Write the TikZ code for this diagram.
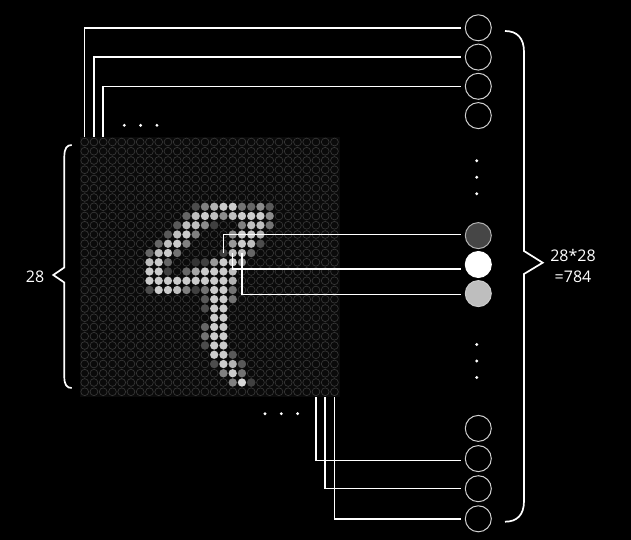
\documentclass[tikz,border=0pt]{standalone}
\usepackage{fontspec}
\setmainfont{Open Sans}
\definecolor{cellline}{HTML}{363636}
\definecolor{gridbg}{HTML}{0A0A0A}
\definecolor{outline}{HTML}{D0D0D0}
\begin{document}
\begin{tikzpicture}[x=1pt,y=-1pt,
  outn/.style={circle, draw=outline, line width=1pt, minimum size=26pt, inner sep=0pt, outer sep=4pt, fill=black},
  conn/.style={white, line width=1.5pt},
  brace/.style={white, line width=1.7pt, line join=miter},
  dotm/.style={white},
  lab/.style={text=white, font=\fontsize{16}{21.5}\selectfont, align=center, inner sep=0pt}]
\useasboundingbox[fill=black] (0,0) rectangle (631,540);
% grid background
\fill[gridbg] (80,137.5) rectangle (339.5,396.5);
% grid of 28x28 pixel circles
\foreach \r in {0,...,27}
  \foreach \c in {0,...,27}
    \draw[cellline, line width=0.7pt] ({84.7+9.25*\c},{142+9.25*\r}) circle[radius=3.9pt];
% digit pixels
\foreach \r/\c/\v in {
  7/12/30, 7/13/50, 7/14/70, 7/15/80, 7/16/80, 7/17/45, 7/18/40, 7/19/55, 7/20/35,
  8/11/40, 8/12/75, 8/13/80, 8/14/75, 8/15/55, 8/16/75, 8/17/80, 8/18/80, 8/19/80, 8/20/55,
  9/10/35, 9/11/75, 9/12/75, 9/13/55, 9/14/25, 9/17/50, 9/18/75, 9/19/75, 9/20/45,
  10/9/35, 10/10/75, 10/11/80, 10/12/50, 10/16/55, 10/17/80, 10/18/80, 10/19/70,
  11/8/40, 11/9/75, 11/10/80, 11/11/50, 11/16/60, 11/17/80, 11/18/75, 11/19/30,
  12/7/40, 12/8/75, 12/9/80, 12/10/45, 12/15/25, 12/16/75, 12/17/75, 12/18/40,
  13/7/75, 13/8/80, 13/9/40, 13/12/20, 13/13/25, 13/14/60, 13/15/80, 13/16/80, 13/17/55,
  14/7/80, 14/8/80, 14/9/25, 14/11/40, 14/12/65, 14/13/80, 14/14/80, 14/15/80, 14/16/75,
  15/7/80, 15/8/80, 15/9/80, 15/10/80, 15/11/80, 15/12/80, 15/13/80, 15/14/80, 15/15/80, 15/16/70,
  16/7/30, 16/8/80, 16/9/80, 16/10/75, 16/11/50, 16/12/25, 16/13/45, 16/14/80, 16/15/80, 16/16/45,
  17/13/35, 17/14/80, 17/15/80, 17/16/45,
  18/13/30, 18/14/80, 18/15/80,
  19/14/80, 19/15/80,
  20/13/40, 20/14/80, 20/15/80,
  21/13/45, 21/14/80, 21/15/80,
  22/13/30, 22/14/80, 22/15/80,
  23/14/80, 23/15/80, 23/16/35,
  24/14/30, 24/15/80, 24/16/70, 24/17/35,
  25/15/50, 25/16/80, 25/17/45,
  26/16/50, 26/17/85, 26/18/25}
  \fill[white!\v!black] ({84.7+9.25*\c},{142+9.25*\r}) circle[radius=4.1pt];
% connector start points
\coordinate (ta) at (84.7,137);
\coordinate (tb) at (93.95,137);
\coordinate (tc) at (103.2,137);
\coordinate (ma) at (223.45,253);
\coordinate (mb) at (232.7,253);
\coordinate (mc) at (241.95,253);
\coordinate (ba) at (315.95,397);
\coordinate (bb) at (325.2,397);
\coordinate (bc) at (334.45,397);
% output neurons
\node[outn] (o1) at (478.3,27.8) {};
\node[outn] (o2) at (478.3,57.1) {};
\node[outn] (o3) at (478.3,86.3) {};
\node[outn] (o4) at (478.3,115.6) {};
\node[outn, fill={rgb,255:red,70;green,70;blue,70}, draw=white!70!black] (o5) at (478.3,235.6) {};
\node[outn, fill=white, draw=white] (o6) at (478.3,264.5) {};
\node[outn, fill={rgb,255:red,190;green,190;blue,190}, draw=white!80!black] (o7) at (478.3,293.6) {};
\node[outn] (o8) at (478.3,428.4) {};
\node[outn] (o9) at (478.3,458.6) {};
\node[outn] (o10) at (478.3,488.7) {};
\node[outn] (o11) at (478.3,518.8) {};
% connectors
\draw[conn] (ta) |- (o1);
\draw[conn] (tb) |- (o2);
\draw[conn] (tc) |- (o3);
\draw[conn] (ma) |- ([yshift=1.2pt]o5.west);
\draw[conn] (mb) |- ([yshift=-4.5pt]o6.west);
\draw[conn] (mc) |- ([yshift=-0.8pt]o7.west);
\draw[conn] (ba) |- ([yshift=-1.8pt]o9.west);
\draw[conn] (bb) |- (o10);
\draw[conn] (bc) |- (o11);
% ellipsis dots
\foreach \x/\y in {124.3/125.3, 140.6/125.3, 156.9/125.3,
                   265/413.7, 281.3/413.7, 297.6/413.7,
                   476.7/160.7, 476.7/177.2, 476.7/193.7,
                   476.7/344.5, 476.7/361, 476.7/377.5}
  \fill[dotm] (\x,\y) circle[radius=1.6pt];
% braces
\draw[brace] (71.7,145) .. controls (67,145) and (64.3,148) .. (64.3,157)
  -- (64.3,267.5) -- (53.3,275) -- (64.3,282.5) -- (64.3,377)
  .. controls (64.3,385) and (67,388) .. (71.7,388);
\draw[brace] (505,31) .. controls (517,31) and (524,38) .. (524,52)
  -- (524,251) -- (542.7,262.7) -- (524,274) -- (524,501)
  .. controls (524,515) and (517,521.7) .. (505,521.7);
% labels
\node[lab] (l28) at (35,277) {28};
\node[lab] (l784) at (573,266) {28*28\\=784};
\end{tikzpicture}
\end{document}
